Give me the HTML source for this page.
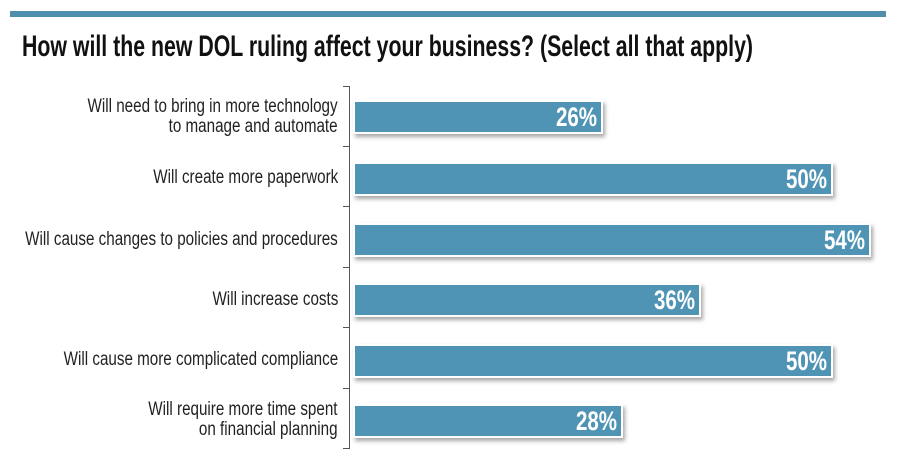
<!DOCTYPE html>
<html><head><meta charset="utf-8"><style>
body{margin:0;width:900px;height:471px;background:#fff;position:relative;overflow:hidden;font-family:"Liberation Sans",sans-serif;}
.stripe{position:absolute;left:10px;top:11px;width:876px;height:6px;background:#4f8fae;}
.title{position:absolute;left:22px;top:30px;font-size:30px;font-weight:bold;color:#111;white-space:nowrap;transform-origin:0 0;transform:scaleX(0.71);}
.axis{position:absolute;left:349px;top:86px;width:1px;height:363px;background:#555;}
.tick{position:absolute;left:343px;width:6px;height:1px;background:#555;}
.lab{position:absolute;right:562px;color:#222;font-size:19px;line-height:20px;text-align:right;white-space:nowrap;transform-origin:100% 0;transform:scaleX(0.8);}
.bar{position:absolute;left:353px;height:30px;background:#4f94b4;border:2px solid #fff;box-shadow:2px 3px 4px rgba(0,0,0,0.35);}
.bar span{position:absolute;right:4px;top:0px;color:#fff;font-weight:bold;font-size:27px;line-height:30px;transform-origin:100% 0;transform:scaleX(0.76);}
</style></head><body>
<div class="stripe"></div>
<div class="title">How will the new DOL ruling affect your business? (Select all that apply)</div>
<div class="axis"></div>
<div class="tick" style="top:86px"></div><div class="tick" style="top:146px"></div><div class="tick" style="top:206px"></div><div class="tick" style="top:267px"></div><div class="tick" style="top:327px"></div><div class="tick" style="top:388px"></div><div class="tick" style="top:448px"></div>
<div class="lab" style="top:97px">Will need to bring in more technology<br>to manage and automate</div>
<div class="lab" style="top:168px">Will create more paperwork</div>
<div class="lab" style="top:230px">Will cause changes to policies and procedures</div>
<div class="lab" style="top:290px">Will increase costs</div>
<div class="lab" style="top:350px">Will cause more complicated compliance</div>
<div class="lab" style="top:400px">Will require more time spent<br>on financial planning</div>
<div class="bar" style="top:100px;width:246px"><span>26%</span></div>
<div class="bar" style="top:162px;width:476px"><span>50%</span></div>
<div class="bar" style="top:223px;width:514px"><span>54%</span></div>
<div class="bar" style="top:283px;width:344px"><span>36%</span></div>
<div class="bar" style="top:344px;width:476px"><span>50%</span></div>
<div class="bar" style="top:404px;width:266px"><span>28%</span></div>
</body></html>
